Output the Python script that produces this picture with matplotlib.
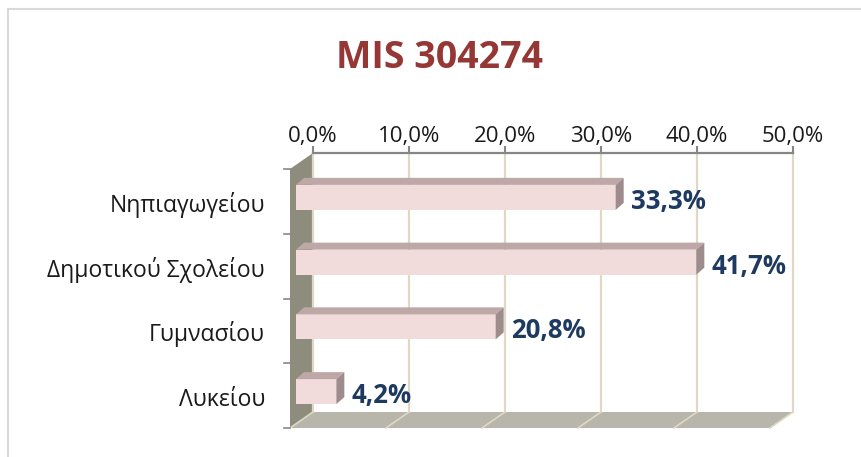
import matplotlib
matplotlib.use("Agg")
import matplotlib.pyplot as plt
from matplotlib.patches import Polygon, Rectangle

plt.rcParams['font.family'] = ['Open Sans', 'DejaVu Sans']

title = "MIS 304274"
categories = ["Νηπιαγωγείου", "Δημοτικού Σχολείου", "Γυμνασίου", "Λυκείου"]
values = [33.3, 41.7, 20.8, 4.2]
ticks = [0, 10, 20, 30, 40, 50]

W, H = 862, 457
fig = plt.figure(figsize=(W / 100, H / 100), dpi=100)

# back wall of the 3d plot, in pixels
L, R, T, B = 313, 793, 153, 412
ax = fig.add_axes([L / W, 1 - B / H, (R - L) / W, (B - T) / H])
ax.set_xlim(0, 50)
ax.set_ylim(len(categories) - 0.5, -0.5)
ax.axis('off')

ux = (R - L) / 50.0
uy = (B - T) / len(categories)
def dx(p): return p / ux
def dy(p): return p / uy   # positive = down

y0, y1 = -0.5, len(categories) - 0.5
wx, wy = dx(-23), dy(16)

# side wall and floor
ax.add_patch(Polygon([(0, y0), (0, y1), (wx, y1 + wy), (wx, y0 + wy)],
                     closed=True, fc='#8e8d7d', ec='none', clip_on=False, zorder=1))
ax.add_patch(Polygon([(0, y1), (50, y1), (50 + wx, y1 + wy), (wx, y1 + wy)],
                     closed=True, fc='#b8b6ab', ec='none', clip_on=False, zorder=1))

for t in ticks:
    ax.plot([t, t], [y0, y1], color='#ddd9c3', lw=1.6, clip_on=False, zorder=2)
    ax.plot([t, t + wx], [y1, y1 + wy], color='#ddd9c3', lw=1.2, clip_on=False, zorder=2)
    ax.plot([t, t], [y0, y0 - dy(6)], color='#868686', lw=1.5, clip_on=False, zorder=3)
    ax.text(t, y0 - dy(11), f"{t:.1f}%".replace('.', ','), ha='center', va='baseline',
            fontsize=16, color='#1a1a1a')
ax.plot([0, 50], [y0, y0], color='#868686', lw=1.6, clip_on=False, zorder=3)

# left ticks on the front edge of the wall
for k in range(len(categories) + 1):
    ax.plot([wx - dx(6), wx], [y0 + k + wy, y0 + k + wy], color='#868686', lw=1.2,
            clip_on=False, zorder=3)

# bars
fx, fy = dx(-17), dy(12)
bh = dy(25)
bx, by = dx(8), dy(-7)
for i, (cat, v) in enumerate(zip(categories, values)):
    top = i + fy - bh / 2
    bot = i + fy + bh / 2
    ax.barh(i + fy, v, height=bh, left=fx, color='#f2dcdb', zorder=5, clip_on=False)
    ax.add_patch(Polygon([(fx, top), (v + fx, top), (v + fx + bx, top + by), (fx + bx, top + by)],
                         closed=True, fc='#bda7a7', ec='none', zorder=5, clip_on=False))
    ax.add_patch(Polygon([(v + fx, top), (v + fx + bx, top + by), (v + fx + bx, bot + by), (v + fx, bot)],
                         closed=True, fc='#9e8c8c', ec='none', zorder=5, clip_on=False))
    ax.text(v + fx + dx(15), i + fy + dy(11.5), f"{v:.1f}%".replace('.', ','),
            ha='left', va='baseline', fontsize=18.5, fontweight='bold', color='#1f3a60', zorder=6)
    ax.text(dx(265 - L), i + dy(26.5), cat, ha='right', va='baseline',
            fontsize=16.5, color='#1a1a1a')

fig.text(439 / W, 1 - 68 / H, title, ha='center', va='baseline', fontsize=27,
         fontweight='bold', color='#953735')

fig.add_artist(Rectangle((8 / W, -0.1), 1.2, 1.1 - 9 / H, transform=fig.transFigure,
                         fill=False, ec='#d9d9d9', lw=1.5))

fig.savefig("out.png", dpi=100)
